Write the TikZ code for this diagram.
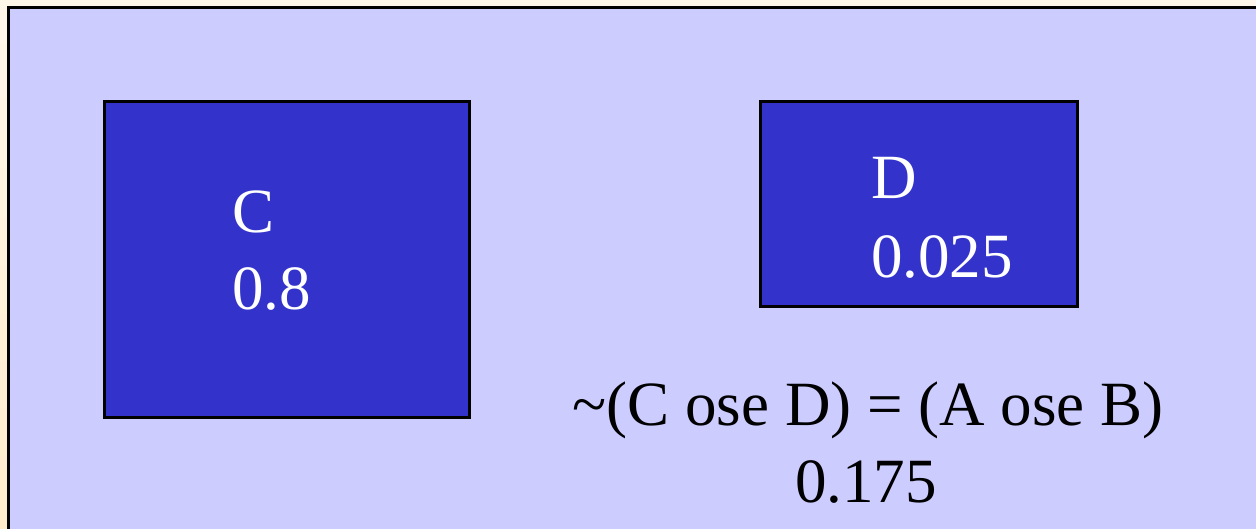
\documentclass[tikz,border=0pt]{standalone}
\usepackage{fontspec}
\setmainfont{Liberation Serif}
\definecolor{cream}{HTML}{FFF6EA}
\definecolor{creamb}{HTML}{FFEBCC}
\definecolor{lav}{HTML}{CCCCFF}
\definecolor{boxblue}{HTML}{3333CC}
\begin{document}
\begin{tikzpicture}[x=1pt,y=-1pt,
  bluebox/.style={draw=black,line width=3pt,fill=boxblue,inner sep=0pt},
  wtext/.style={text=white,font=\fontsize{63}{76}\selectfont,inner sep=0pt,anchor=base west},
  btext/.style={text=black,font=\fontsize{63}{76}\selectfont,inner sep=0pt,anchor=base}]
\useasboundingbox (0,0) rectangle (1256,528);
\clip (0,0) rectangle (1256,528);
\shade[top color=cream,bottom color=creamb] (0,0) rectangle (1256,528);
\draw[line width=3.5pt,fill=lav] (8.5,7.5) rectangle (1300,600);
\node[bluebox,minimum width=365pt,minimum height=316pt] (C) at (286.5,259) {};
\node[bluebox,minimum width=317pt,minimum height=205pt] (D) at (918.5,203.5) {};
\node[wtext] (cl) at (232,232) {C};
\node[wtext] (cv) at (232,309) {0.8};
\node[wtext] (dl) at (871,198) {D};
\node[wtext] (dv) at (871,277) {0.025};
\node[btext] (eq) at (868,425) {\char"007E(C ose D) = (A ose B)};
\node[btext] (ev) at (866,502) {0.175};
\end{tikzpicture}
\end{document}
